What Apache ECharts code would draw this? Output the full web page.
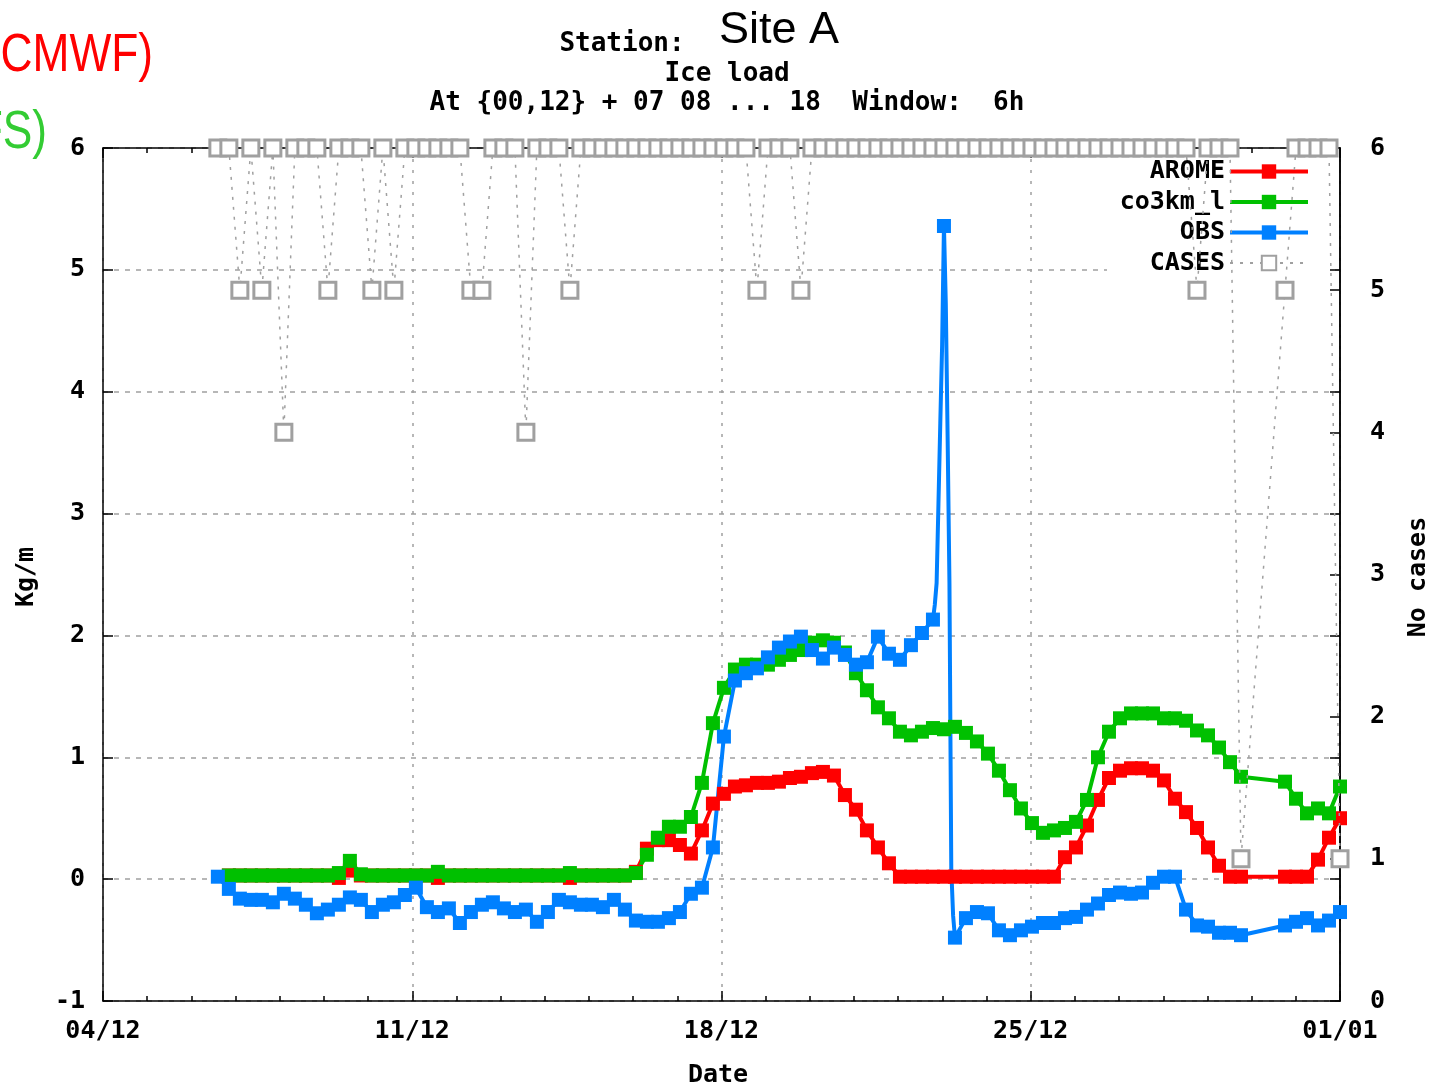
<!DOCTYPE html>
<html><head><meta charset="utf-8">
<script src="https://cdn.jsdelivr.net/npm/echarts@6/dist/echarts.min.js"></script>
<style>html,body{margin:0;padding:0;background:#fff}#c{width:1446px;height:1088px}</style>
</head><body><div id="c"></div>
<script>
// x tick labels (days after 04/12 00:00, every 7 days)
const tickLabels = ['04/12', '11/12', '18/12', '25/12', '01/01'];
// first and last sampling time, in days after 04/12 00:00 (6-hourly samples)
const firstDay = 2.6, lastDay = 28.0;

const aromeValues = [
  null,0.03,0.03,0.03,0.03,0.03,0.03,0.03,0.03,0.03,
  0.03,0.01,0.07,0.03,0.03,0.03,0.03,0.03,0.03,0.03,
  0.01,0.03,0.03,0.03,0.03,0.03,0.03,0.03,0.03,0.03,
  0.03,0.03,0.01,0.03,0.03,0.03,0.03,0.03,0.06,0.25,
  0.32,0.32,0.28,0.21,0.4,0.62,0.7,0.76,0.77,0.79,
  0.79,0.8,0.83,0.84,0.87,0.88,0.85,0.69,0.57,0.4,
  0.26,0.13,0.02,0.02,0.02,0.02,0.02,0.02,0.02,0.02,
  0.02,0.02,0.02,0.02,0.02,0.02,0.02,0.18,0.26,0.44,
  0.65,0.83,0.89,0.91,0.91,0.89,0.81,0.66,0.55,0.42,
  0.26,0.11,0.02,0.02,null,null,null,0.02,0.02,0.02,
  0.16,0.34,0.5
];
const co3kmValues = [
  null,0.03,0.03,0.03,0.03,0.03,0.03,0.03,0.03,0.03,
  0.03,0.05,0.15,0.04,0.03,0.03,0.03,0.03,0.03,0.03,
  0.06,0.03,0.03,0.03,0.03,0.03,0.03,0.03,0.03,0.03,
  0.03,0.03,0.05,0.03,0.03,0.03,0.03,0.03,0.05,0.2,
  0.34,0.43,0.43,0.51,0.79,1.28,1.57,1.72,1.76,1.76,
  1.76,1.8,1.84,1.88,1.94,1.96,1.94,1.86,1.69,1.55,
  1.41,1.32,1.21,1.18,1.21,1.24,1.23,1.25,1.2,1.13,
  1.03,0.89,0.73,0.58,0.46,0.38,0.4,0.42,0.47,0.65,
  1.0,1.21,1.32,1.36,1.36,1.36,1.32,1.32,1.3,1.22,
  1.18,1.08,0.96,0.84,null,null,null,0.8,0.66,0.54,
  0.58,0.54,0.76
];
const obsValues = [
  0.02,-0.08,-0.16,-0.17,-0.17,-0.19,-0.12,-0.16,-0.21,-0.28,
  -0.25,-0.21,-0.15,-0.17,-0.27,-0.21,-0.19,-0.13,-0.07,-0.23,
  -0.27,-0.24,-0.36,-0.27,-0.21,-0.19,-0.24,-0.27,-0.25,-0.35,
  -0.27,-0.17,-0.19,-0.21,-0.21,-0.23,-0.17,-0.25,-0.34,-0.35,
  -0.35,-0.32,-0.27,-0.12,-0.07,0.26,1.17,1.63,1.69,1.73,
  1.82,1.9,1.95,1.99,1.88,1.81,1.9,1.84,1.76,1.78,
  1.99,1.85,1.8,1.92,2.02,2.13,5.36,-0.48,-0.32,-0.27,
  -0.28,-0.42,-0.46,-0.42,-0.39,-0.36,-0.36,-0.32,-0.31,-0.25,
  -0.2,-0.13,-0.11,-0.12,-0.11,-0.03,0.02,0.02,-0.25,-0.38,
  -0.39,-0.44,-0.44,-0.46,null,null,null,-0.38,-0.35,-0.32,
  -0.38,-0.34,-0.27
];
// hourly OBS values inside the ice-load spike (between samples 65-66 and 66-67)
const obsSpikeIndex = 65;
const obsSpikeRise = [2.25, 2.43, 3.08, 3.74, 4.38];
const obsSpikeFall = [4.73, 3.63, 2.43, 0.08, -0.3];
// number of cases (right axis)
const casesValues = [
  6,6,5,6,5,6,4,6,6,6,
  5,6,6,6,5,6,5,6,6,6,
  6,6,6,5,5,6,6,6,4,6,
  6,6,5,6,6,6,6,6,6,6,
  6,6,6,6,6,6,6,6,6,5,
  6,6,6,5,6,6,6,6,6,6,
  6,6,6,6,6,6,6,6,6,6,
  6,6,6,6,6,6,6,6,6,6,
  6,6,6,6,6,6,6,6,6,5,
  6,6,6,1,null,null,null,5,6,6,
  6,6,1
];
const leftTicks = { min: -1, max: 6, interval: 1 };
const rightTicks = { min: 0, max: 6, interval: 1 };

const N = obsValues.length;
const step = (lastDay - firstDay) / (N - 1);
const dayOf = i => firstDay + i * step;
const pairs = vals => vals.map((v, i) => [dayOf(i), v]);
const obsData = [];
obsValues.forEach((v, i) => {
  obsData.push([dayOf(i), v]);
  const extra = i === obsSpikeIndex ? obsSpikeRise : (i === obsSpikeIndex + 1 ? obsSpikeFall : null);
  if (extra) extra.forEach((h, k) => obsData.push({ value: [dayOf(i) + (k + 1) * step / 6, h], symbol: 'none' }));
});

const MONO = '"DejaVu Sans Mono", monospace';
const monoText = { fontFamily: MONO, fontWeight: 'bold', fontSize: 25, color: '#000' };
const black = { color: '#000', width: 1.5 };
const gridGray = '#a0a0a0';

function lineSeries(name, data, color) {
  return {
    name, type: 'line', data, xAxisIndex: 0, yAxisIndex: 0,
    symbol: 'rect', symbolSize: 14, showAllSymbol: true, connectNulls: true,
    lineStyle: { color, width: 4 }, itemStyle: { color },
    emphasis: { disabled: true }, animation: false, z: 3
  };
}
function centerText(x, y, text, font, extra) {
  return Object.assign({
    type: 'text', z: 10, x, y,
    style: { x: 0, y: 0, text, fill: '#000', font, textAlign: 'center', textVerticalAlign: 'middle', align: 'center', verticalAlign: 'middle' }
  }, extra || {});
}
const titleFont = 'bold 26px ' + MONO;
const sideFont = '54px "Liberation Sans", Arial, sans-serif';

const chart = echarts.init(document.getElementById('c'), null, { renderer: 'canvas' });
chart.setOption({
  backgroundColor: '#fff',
  animation: false,
  grid: { left: 103, right: 106, top: 148, bottom: 87, containLabel: false },
  legend: {
    data: [
      { name: 'AROME', lineStyle: { width: 4 } },
      { name: 'co3km_l', lineStyle: { width: 4 } },
      { name: 'OBS', lineStyle: { width: 4 } },
      { name: 'CASES' }
    ],
    orient: 'vertical', align: 'right', right: 136, top: 159, padding: 0,
    itemWidth: 78, itemHeight: 18, itemGap: 5.5, selectedMode: false,
    textStyle: Object.assign({ lineHeight: 24 }, monoText)
  },
  xAxis: [{
    type: 'value', position: 'bottom', min: 0, max: 28, interval: 7,
    axisLine: { onZero: false, lineStyle: black },
    axisTick: { inside: true, length: 10, lineStyle: black },
    minorTick: { show: true, splitNumber: 7, length: 5, lineStyle: black },
    axisLabel: Object.assign({ margin: 18, formatter: v => tickLabels[Math.round(v / 7)] }, monoText),
    splitLine: { show: true, lineStyle: { color: gridGray, width: 1.5, type: [3, 8] } }
  }, {
    type: 'value', position: 'top', min: 0, max: 28, interval: 7,
    axisLine: { onZero: false, lineStyle: black },
    axisTick: { inside: true, length: 10, lineStyle: black },
    minorTick: { show: true, splitNumber: 7, length: 5, lineStyle: black },
    axisLabel: { show: false }, splitLine: { show: false }
  }],
  yAxis: [{
    type: 'value', position: 'left', min: leftTicks.min, max: leftTicks.max, interval: leftTicks.interval,
    axisLine: { show: true, onZero: false, lineStyle: black },
    axisTick: { show: true, inside: true, length: 10, lineStyle: black },
    axisLabel: Object.assign({ margin: 18 }, monoText),
    splitLine: { show: true, lineStyle: { color: gridGray, width: 1.5, type: [5, 6] } }
  }, {
    type: 'value', position: 'right', min: rightTicks.min, max: rightTicks.max, interval: rightTicks.interval,
    axisLine: { show: true, onZero: false, lineStyle: black },
    axisTick: { show: true, inside: true, length: 10, lineStyle: black },
    axisLabel: Object.assign({ margin: 30 }, monoText),
    splitLine: { show: false }
  }, {
    type: 'value', position: 'right', offset: 0, min: leftTicks.min, max: leftTicks.max, interval: leftTicks.interval,
    axisLine: { show: true, onZero: false, lineStyle: black },
    axisTick: { show: true, inside: true, length: 10, lineStyle: black },
    axisLabel: { show: false }, splitLine: { show: false }
  }],
  series: [
    lineSeries('AROME', pairs(aromeValues), '#ff0000'),
    lineSeries('co3km_l', pairs(co3kmValues), '#00c000'),
    lineSeries('OBS', obsData, '#0080ff'),
    {
      name: 'CASES', type: 'line', data: pairs(casesValues), xAxisIndex: 0, yAxisIndex: 1,
      symbol: 'rect', symbolSize: 16, showAllSymbol: true, connectNulls: true,
      lineStyle: { color: gridGray, width: 1.5, type: [3, 7] },
      itemStyle: { color: '#fff', borderColor: gridGray, borderWidth: 3 },
      emphasis: { disabled: true }, animation: false, z: 4
    }
  ],
  graphic: [
    { type: 'rect', z: 1, silent: true, shape: { x: 1107, y: 156, width: 222, height: 120 }, style: { fill: '#fff' } },
    { type: 'text', z: 10, x: 153, y: 56, scaleX: 0.82, style: { x: 0, y: 0, text: 'CMWF)', fill: '#ff0000', font: sideFont, textAlign: 'right', textVerticalAlign: 'middle', align: 'right', verticalAlign: 'middle' } },
    { type: 'text', z: 10, x: 47, y: 133, scaleX: 0.82, style: { x: 0, y: 0, text: 'FS)', fill: '#33cc33', font: sideFont, textAlign: 'right', textVerticalAlign: 'middle', align: 'right', verticalAlign: 'middle' } },
    centerText(779, 31, 'Site A', '45px "Liberation Sans", Arial, sans-serif'),
    centerText(622, 44, 'Station:', titleFont),
    centerText(727, 74, 'Ice load', titleFont),
    centerText(727, 103, 'At {00,12} + 07 08 ... 18  Window:  6h', titleFont),
    centerText(26, 577, 'Kg/m', 'bold 25px ' + MONO, { rotation: Math.PI / 2 }),
    centerText(1418, 577, 'No cases', 'bold 25px ' + MONO, { rotation: Math.PI / 2 }),
    centerText(718, 1075, 'Date', 'bold 25px ' + MONO)
  ]
});
</script>
</body></html>
